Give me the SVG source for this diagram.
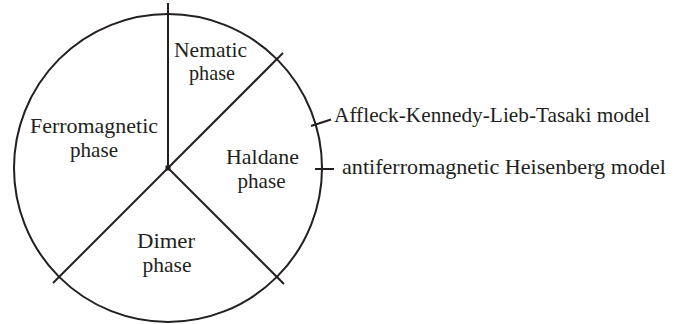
<svg xmlns="http://www.w3.org/2000/svg" width="684" height="324" viewBox="0 0 684 324">
  <style>
    .ln { stroke: #231f20; stroke-width: 2; fill: none; stroke-linecap: butt; }
    .lb { font-family: "Liberation Serif", "DejaVu Serif", serif; font-size: 22px; fill: #231f20; }
    .c { text-anchor: middle; }
  </style>
  <rect width="684" height="324" fill="#ffffff"/>
  <g id="outline">
    <circle class="ln" cx="168" cy="168" r="154"/>
  </g>
  <g id="connectors">
    <line class="ln" x1="168" y1="168" x2="168" y2="3"/>
    <line class="ln" x1="168" y1="168" x2="283" y2="53"/>
    <line class="ln" x1="168" y1="168" x2="53" y2="283"/>
    <line class="ln" x1="168" y1="168" x2="284" y2="284"/>
    <line class="ln" x1="311" y1="126" x2="331" y2="119.5"/>
    <line class="ln" x1="315" y1="169" x2="334" y2="169"/>
    <rect x="165.5" y="165.5" width="5" height="5" fill="#231f20"/>
  </g>
  <g id="nematic">
    <text class="lb c" x="210.5" y="57" textLength="73" lengthAdjust="spacingAndGlyphs">Nematic</text>
    <text class="lb c" x="212" y="80" textLength="46" lengthAdjust="spacingAndGlyphs">phase</text>
  </g>
  <g id="ferromagnetic">
    <text class="lb c" x="94" y="133" textLength="128" lengthAdjust="spacingAndGlyphs">Ferromagnetic</text>
    <text class="lb c" x="94" y="157" textLength="48" lengthAdjust="spacingAndGlyphs">phase</text>
  </g>
  <g id="haldane">
    <text class="lb c" x="262.5" y="164" textLength="73" lengthAdjust="spacingAndGlyphs">Haldane</text>
    <text class="lb c" x="261.5" y="188" textLength="48" lengthAdjust="spacingAndGlyphs">phase</text>
  </g>
  <g id="dimer">
    <text class="lb c" x="166" y="248" textLength="58" lengthAdjust="spacingAndGlyphs">Dimer</text>
    <text class="lb c" x="167" y="272" textLength="49" lengthAdjust="spacingAndGlyphs">phase</text>
  </g>
  <g id="aklt">
    <text class="lb" x="334" y="122" textLength="316" lengthAdjust="spacingAndGlyphs">Affleck-Kennedy-Lieb-Tasaki model</text>
  </g>
  <g id="heisenberg">
    <text class="lb" x="342" y="174" textLength="324" lengthAdjust="spacingAndGlyphs">antiferromagnetic Heisenberg model</text>
  </g>
</svg>
